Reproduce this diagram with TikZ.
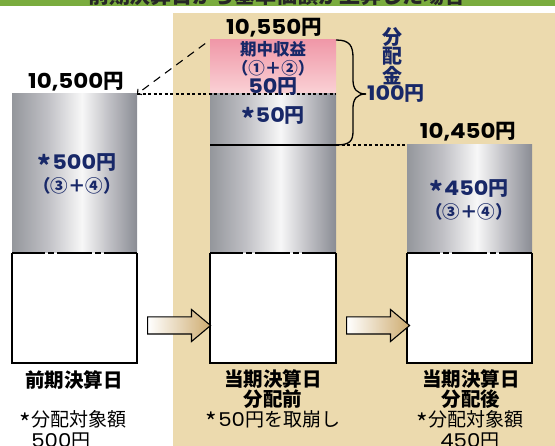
\documentclass[tikz,border=0pt]{standalone}
\usepackage{fontspec}
\setmainfont{Noto Sans CJK JP}
\newfontfamily\numfont{Poppins}[FakeStretch=1.12]
\usetikzlibrary{shapes.arrows,arrows.meta}

\definecolor{titlegreen}{RGB}{122,172,62}
\definecolor{beige}{RGB}{236,218,174}
\definecolor{navy}{RGB}{24,40,104}
\definecolor{pinktop}{RGB}{240,152,168}
\definecolor{pinkbot}{RGB}{250,210,214}
\definecolor{arrowtan}{RGB}{206,172,112}

\pgfdeclarehorizontalshading{metal}{100bp}{%
  rgb(0bp)=(.58,.59,.61); rgb(25bp)=(.58,.59,.61);
  rgb(39bp)=(.75,.75,.77); rgb(53bp)=(.97,.97,.97);
  rgb(64bp)=(.75,.75,.77); rgb(75bp)=(.54,.55,.58);
  rgb(100bp)=(.54,.55,.58)}

\newcommand\amt[1]{{\numfont #1}円}
\newcommand\astr{\raisebox{-.3em}{\scalebox{1.3}{*}}\kern.04em}
\newcommand\fs[2]{\fontsize{#1}{#2}\selectfont}

\tikzset{
  boxline/.style={line width=1.2},
  cutline/.style={line width=1.5,
    dash pattern=on 33pt off 3pt on 6pt off 3pt on 35pt off 3pt on 6pt off 3pt on 40pt},
  dotline/.style={line width=1.1, dash pattern=on 3pt off 2.5pt},
  diagline/.style={line width=1.1, dash pattern=on 8pt off 6pt},
  bracelin/.style={line width=1.3},
  toplbl/.style={font=\fs{20.5}{20}\bfseries, inner sep=1pt},
  barlbl/.style={text=navy, align=center, inner sep=1pt, font=\fs{20}{19}\bfseries},
  caption/.style={align=center, inner sep=1pt, font=\fs{19.5}{18.5}\bfseries},
  note/.style={align=left, inner sep=1pt, font=\fs{19}{18.5}},
  blockarrow/.style={single arrow, draw=black, line width=1.1,
    minimum height=63pt, minimum width=31pt, single arrow head extend=7.5pt,
    single arrow tip angle=80, inner sep=8pt,
    left color=white, right color=arrowtan}
}

\begin{document}
\begin{tikzpicture}[x=1pt,y=-1pt]
\useasboundingbox (0,0) rectangle (555,446);

\fill[titlegreen] (0,0) rectangle (555,6.5);
\begin{scope}
\clip (0,0) rectangle (555,6.5);
\node[anchor=base, text=black!85, font=\fs{21}{21}\bfseries, inner sep=0pt]
  (title) at (277,3.8) {前期決算日から基準価額が上昇した場合};
\end{scope}

\fill[beige] (173,13) rectangle (555,446);

% 前期決算日
\coordinate (oldtop) at (137,94);
\shade[shading=metal] (12,94) rectangle (137,253);
\fill[white] (12,253) rectangle (137,363);
\draw[boxline] (12,253) -- (12,363) -- (137,363) -- (137,253);
\draw[cutline] (12,253) -- (137,253);

% 分配前
\coordinate (pinktl) at (210,40);
\coordinate (bracetop) at (336,40);
\coordinate (bracetip) at (366,94);
\coordinate (bracebot) at (336,145);
\shade[top color=pinktop, bottom color=pinkbot] (210,40) rectangle (336,94);
\shade[shading=metal] (210,94) rectangle (336,253);
\fill[white] (210,253) rectangle (336,363);
\draw[boxline] (210,253) -- (210,363) -- (336,363) -- (336,253);
\draw[cutline] (210,253) -- (336,253);
\draw[boxline] (210,145) -- (bracebot);

% 分配後
\coordinate (newtop) at (407,145);
\shade[shading=metal] (407,145) rectangle (532,253);
\fill[white] (407,253) rectangle (532,363);
\draw[boxline] (407,253) -- (407,363) -- (532,363) -- (532,253);
\draw[cutline] (407,253) -- (532,253);

\draw[dotline] (oldtop) -- (336,94);
\draw[diagline, shorten <=6pt, -{Straight Barb[length=3pt,width=7pt]}]
  (pinktl) -- (oldtop);
\draw[dotline] (bracebot) -- (newtop);

\draw[bracelin]
  (bracetop) .. controls (350,40) and (353,46) .. (353,58)
  -- (353,80) .. controls (353,89) and (357,94) .. (bracetip);
\draw[bracelin]
  (bracetip) .. controls (357,94) and (353,99) .. (353,108)
  -- (353,131) .. controls (353,141) and (350,145) .. (bracebot);

\node[blockarrow] (arrowA) at (174,325.5) {};
\node[blockarrow] (arrowB) at (373,325.5) {};

\node[toplbl] (valold) at (76,82) {\amt{10,500}};
\node[toplbl] (valmid) at (274,27.5) {\amt{10,550}};
\node[toplbl] (valnew) at (468,132) {\amt{10,450}};

\node[barlbl] (oldamt) at (77,174) {\astr\amt{500}\\{\fs{17.5}{17.5}（③＋④）}};
\node[barlbl] (gain) at (273,68.5)
  {{\fs{16.5}{17.5}期中収益}\\{\fs{16.5}{17.5}（①＋②）}\\\amt{50}};
\node[barlbl] (drawamt) at (273,118) {\astr\amt{50}};
\node[barlbl] (newamt) at (469,200) {\astr\amt{450}\\{\fs{17.5}{17.5}（③＋④）}};

\node[barlbl, font=\fs{20}{19.5}\bfseries] (divword) at (392,56) {分\\配\\金};
\node[barlbl] (divamt) at (396,94) {\amt{100}};

\node[caption] (capA) at (74,380) {前期決算日};
\node[caption] (capB) at (273,389) {当期決算日\\分配前};
\node[caption] (capC) at (471,389) {当期決算日\\分配後};

\node[note] (noteA) at (73,430) {\astr 分配対象額\\\hspace*{12pt}\amt{500}};
\node[note] (noteB) at (273,421) {\astr\amt{50}を取崩し};
\node[note] (noteC) at (470,430) {\astr 分配対象額\\\hspace*{24pt}\amt{450}};
\end{tikzpicture}
\end{document}
